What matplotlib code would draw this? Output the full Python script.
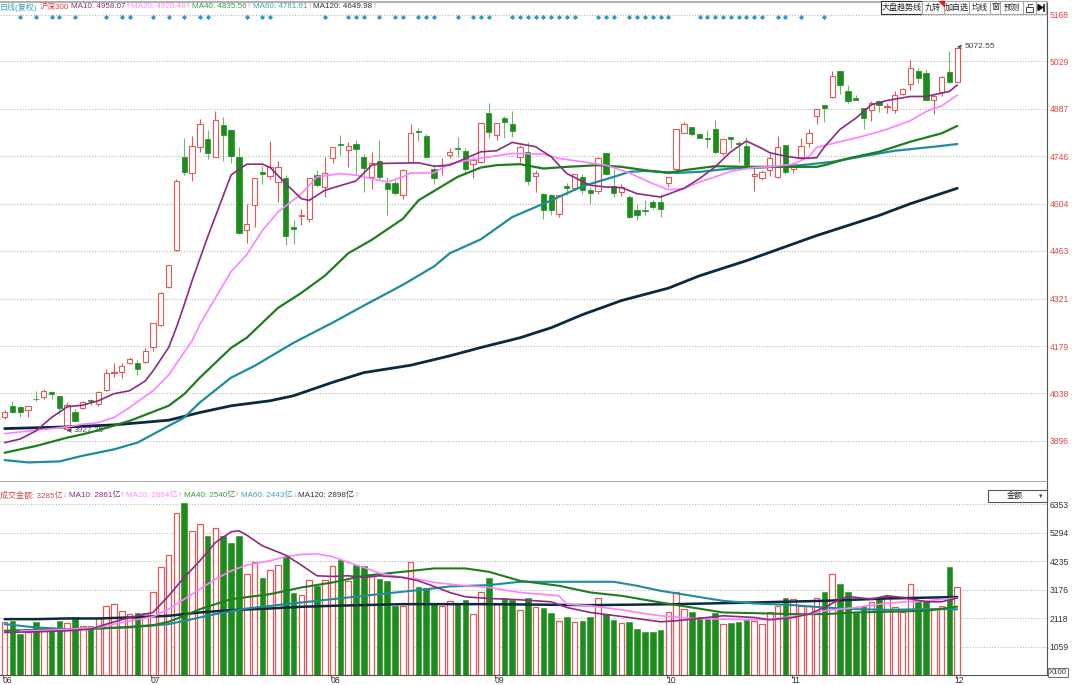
import numpy as np
import matplotlib
matplotlib.use("Agg")
import matplotlib.pyplot as plt
import matplotlib.transforms as mtransforms
from matplotlib.patches import Rectangle, Polygon

plt.rcParams['font.family'] = ['Liberation Sans', 'Noto Sans CJK SC', 'DejaVu Sans']

# ---------------- data (CSI 300 daily) ----------------
opens = [3969, 3999, 3996, 3988, 4022, 4026, 4043, 4031, 3933, 3983,
         3993, 4017, 4005, 4048, 4099, 4101, 4130, 4128, 4132, 4175,
         4242, 4356, 4466, 4742, 4696, 4774, 4798, 4744, 4839, 4824,
         4744, 4526, 4599, 4698, 4686, 4669, 4681, 4534, 4567, 4559,
         4689, 4654, 4739, 4782, 4764, 4781, 4744, 4684, 4731, 4666,
         4666, 4631, 4729, 4820, 4806, 4709, 4717, 4749, 4770, 4762,
         4722, 4729, 4874, 4809, 4859, 4842, 4744, 4759, 4686, 4634,
         4631, 4574, 4656, 4652, 4684, 4644, 4641, 4754, 4656, 4639,
         4624, 4584, 4585, 4609, 4609, 4666, 4709, 4816, 4832, 4812,
         4799, 4826, 4754, 4802, 4785, 4776, 4686, 4682, 4706, 4684,
         4779, 4709, 4744, 4784, 4866, 4899, 4922, 4999, 4941, 4919,
         4889, 4884, 4909, 4893, 4884, 4932, 4961, 5001, 4994, 4912,
         4936, 4996, 4966]
highs = [3988, 4016, 3999, 4001, 4046, 4052, 4044, 4031, 4013, 3991,
         4016, 4020, 4046, 4110, 4128, 4128, 4146, 4137, 4174, 4248,
         4341, 4421, 4679, 4799, 4806, 4857, 4824, 4881, 4862, 4824,
         4774, 4602, 4681, 4716, 4792, 4732, 4691, 4556, 4589, 4681,
         4706, 4744, 4772, 4809, 4787, 4794, 4752, 4759, 4794, 4684,
         4674, 4709, 4841, 4829, 4812, 4719, 4739, 4771, 4804, 4769,
         4744, 4848, 4904, 4846, 4866, 4881, 4779, 4789, 4704, 4636,
         4634, 4629, 4666, 4694, 4692, 4654, 4744, 4754, 4709, 4664,
         4629, 4604, 4614, 4616, 4634, 4684, 4826, 4849, 4832, 4816,
         4824, 4854, 4796, 4804, 4791, 4802, 4714, 4704, 4756, 4806,
         4779, 4729, 4799, 4826, 4887, 4899, 4999, 4999, 4959, 4929,
         4889, 4909, 4912, 4904, 4941, 4949, 5032, 5009, 5006, 4929,
         4984, 5059, 5072.55]
lows = [3961, 3980, 3969, 3968, 4016, 4022, 4021, 3978, 3927.25, 3953,
        3990, 4003, 4000, 4045, 4088, 4083, 4126, 4093, 4130, 4165,
        4239, 4352, 4464, 4689, 4672, 4759, 4736, 4744, 4732, 4726,
        4514, 4486, 4534, 4664, 4679, 4609, 4481, 4484, 4539, 4549,
        4654, 4624, 4724, 4749, 4714, 4694, 4639, 4649, 4674, 4569,
        4629, 4619, 4726, 4792, 4742, 4664, 4689, 4739, 4744, 4694,
        4682, 4726, 4799, 4794, 4799, 4802, 4729, 4659, 4639, 4559,
        4569, 4564, 4629, 4644, 4634, 4604, 4634, 4689, 4624, 4626,
        4562, 4556, 4569, 4589, 4564, 4654, 4706, 4814, 4806, 4799,
        4769, 4752, 4749, 4769, 4729, 4716, 4641, 4674, 4686, 4682,
        4694, 4696, 4739, 4774, 4842, 4849, 4919, 4932, 4906, 4912,
        4827, 4852, 4879, 4874, 4874, 4929, 4944, 4964, 4914, 4872,
        4924, 4964, 4966]
closes = [3981, 3983, 3981, 3999, 4020, 4044, 4037, 3994, 4004, 3955,
          4013, 4015, 4043, 4098, 4101, 4121, 4140, 4111, 4164, 4247,
          4337, 4420, 4671, 4699, 4776, 4842, 4756, 4854, 4809, 4746,
          4517, 4544, 4681, 4694, 4714, 4714, 4507, 4530, 4571, 4681,
          4659, 4696, 4772, 4780, 4777, 4766, 4712, 4724, 4684, 4649,
          4636, 4706, 4816, 4818, 4742, 4682, 4721, 4757, 4767, 4709,
          4734, 4846, 4819, 4844, 4849, 4821, 4772, 4672, 4696, 4586,
          4584, 4629, 4652, 4692, 4644, 4636, 4739, 4694, 4636, 4654,
          4564, 4569, 4583, 4594, 4589, 4684, 4826, 4841, 4811, 4801,
          4797, 4757, 4796, 4796, 4783, 4719, 4692, 4699, 4739, 4774,
          4699, 4719, 4777, 4814, 4887, 4889, 4986, 4957, 4909, 4912,
          4859, 4906, 4899, 4895, 4929, 4946, 5009, 4979, 4914, 4924,
          4981, 4967, 5069]
# turnover, 亿
volumes = [1953, 2015, 1519, 1581, 1953, 1643, 1705, 1990, 1928, 2139,
           1829, 1804, 2101, 2572, 2634, 2362, 2263, 2300, 2300, 3093,
           4022, 4456, 6017, 6388, 5359, 5607, 5148, 5458, 5148, 4900,
           5148, 3748, 4182, 3599, 3909, 4084, 4431, 3043, 2980, 3538,
           3290, 3538, 4059, 4282, 3500, 4084, 4034, 3686, 3562, 3500,
           2546, 2572, 4208, 3253, 3216, 2634, 2572, 2758, 2634, 2795,
           2263, 3093, 3599, 2634, 2857, 2795, 2411, 2857, 2510, 2472,
           2300, 2015, 2139, 1978, 1990, 2163, 2845, 2263, 2052, 1928,
           1953, 1705, 1606, 1606, 1680, 2349, 3093, 2448, 2325, 2139,
           2101, 2287, 1891, 1928, 1978, 2052, 2015, 1891, 2325, 2572,
           2845, 2820, 2572, 2572, 2845, 3093, 3748, 3376, 3068, 2300,
           2572, 2720, 2882, 2944, 2510, 2325, 3376, 2696, 2795, 2448,
           2572, 4022, 3285]

# moving averages as drawn by the terminal: (day index, value)
price_ma10 = [(0, 3891), (2, 3902), (4, 3926), (6, 3966), (8, 3998), (10, 4003), (12, 4016),
              (14, 4037), (16, 4046), (18, 4075), (19, 4105), (21, 4175), (22, 4235), (23, 4303),
              (24, 4374), (26, 4505), (29, 4690), (31, 4722), (33, 4722), (34, 4712), (36, 4664),
              (38, 4619), (39, 4614), (41, 4644), (45, 4672), (47, 4719), (48, 4724), (53, 4726),
              (55, 4716), (57, 4719), (59, 4739), (61, 4759), (63, 4762), (65, 4787), (68, 4774),
              (70, 4744), (72, 4694), (75, 4659), (77, 4654), (79, 4652), (81, 4634), (84, 4624),
              (87, 4650), (89, 4679), (91, 4714), (93, 4759), (95, 4791), (97, 4769), (98, 4756),
              (100, 4746), (102, 4739), (104, 4741), (105, 4774), (107, 4826), (109, 4859),
              (111, 4899), (113, 4912), (116, 4924), (118, 4924), (121, 4939), (122, 4958)]
price_ma20 = [(0, 3918), (4, 3928), (8, 3938), (10, 3946), (12, 3951), (14, 3966), (16, 3996),
              (19, 4046), (21, 4093), (24, 4195), (25, 4244), (29, 4402), (31, 4452), (33, 4524),
              (35, 4579), (38, 4634), (40, 4684), (43, 4694), (45, 4689), (49, 4669), (51, 4684),
              (52, 4696), (55, 4696), (57, 4724), (59, 4732), (61, 4740), (65, 4754), (69, 4752),
              (71, 4739), (74, 4729), (77, 4719), (80, 4696), (83, 4664), (85, 4646), (87, 4649),
              (89, 4669), (91, 4684), (93, 4701), (96, 4712), (98, 4714), (101, 4722), (103, 4744),
              (104, 4772), (107, 4789), (110, 4806), (113, 4826), (116, 4852), (118, 4879),
              (120, 4896), (122, 4928)]
price_ma40 = [(0, 3861), (4, 3881), (8, 3906), (10, 3916), (12, 3928), (16, 3956), (21, 4001),
              (23, 4036), (25, 4085), (29, 4174), (31, 4204), (35, 4293), (38, 4338), (41, 4389),
              (44, 4456), (47, 4496), (51, 4559), (53, 4614), (58, 4684), (61, 4712), (63, 4719),
              (66, 4722), (69, 4709), (72, 4714), (76, 4719), (79, 4714), (82, 4704), (85, 4696),
              (87, 4704), (91, 4716), (95, 4714), (99, 4714), (104, 4714), (105, 4719), (108, 4739),
              (112, 4759), (116, 4789), (120, 4814), (122, 4836)]
price_ma60 = [(0, 3839), (3, 3832), (7, 3835), (10, 3852), (14, 3871), (17, 3891), (21, 3941),
              (23, 3966), (25, 4011), (29, 4085), (32, 4120), (37, 4189), (42, 4249), (46, 4300),
              (51, 4362), (55, 4417), (57, 4456), (61, 4498), (65, 4564), (70, 4614), (74, 4656),
              (78, 4684), (80, 4699), (82, 4702), (86, 4696), (89, 4699), (93, 4709), (97, 4712),
              (102, 4719), (106, 4729), (110, 4746), (114, 4762), (119, 4774), (122, 4782)]
price_ma120 = [(0, 3933), (8, 3938), (14, 3944), (21, 3958), (25, 3981), (29, 4001), (34, 4016),
               (37, 4031), (42, 4071), (46, 4100), (52, 4122), (57, 4150), (61, 4175), (66, 4204),
               (70, 4234), (74, 4273), (79, 4315), (85, 4352), (89, 4389), (95, 4434), (104, 4509),
               (112, 4569), (116, 4604), (122, 4650)]

vol_ma10 = [(0, 1580), (4, 1605), (8, 1642), (11, 1704), (13, 1890), (16, 2138), (19, 2324),
            (21, 2943), (23, 3625), (25, 4244), (27, 4925), (29, 5322), (30, 5359), (31, 5198),
            (33, 4801), (36, 4454), (38, 4083), (40, 3687), (42, 3662), (44, 3687), (46, 3625),
            (48, 3687), (51, 3625), (53, 3501), (55, 3290), (57, 3067), (59, 2906), (62, 2844),
            (66, 2795), (70, 2720), (72, 2509), (75, 2324), (79, 2175), (84, 1977), (86, 2014),
            (88, 2076), (92, 2200), (96, 2138), (98, 2051), (101, 2138), (103, 2262), (105, 2509),
            (107, 2819), (108, 2918), (111, 2819), (113, 2943), (115, 2881), (118, 2720),
            (120, 2720), (122, 2861)]
vol_ma20 = [(2, 1640), (4, 1650), (8, 1700), (12, 1766), (14, 1890), (16, 2014), (19, 2163),
            (21, 2447), (23, 2819), (25, 3191), (27, 3563), (29, 3872), (31, 4083), (34, 4244),
            (36, 4400), (38, 4480), (40, 4500), (42, 4400), (44, 4182), (46, 3996), (48, 3786),
            (51, 3625), (53, 3563), (55, 3439), (57, 3377), (59, 3315), (62, 3253), (66, 3067),
            (71, 2943), (72, 2633), (75, 2571), (79, 2422), (81, 2324), (84, 2200), (88, 2101),
            (92, 2076), (96, 2051), (98, 2076), (101, 2175), (103, 2262), (105, 2386), (109, 2509),
            (113, 2670), (118, 2757), (122, 2864)]
vol_ma40 = [(0, 1642), (4, 1679), (8, 1704), (12, 1729), (16, 1791), (19, 1853), (21, 1977),
            (23, 2200), (25, 2447), (29, 2819), (34, 3005), (38, 3253), (42, 3439), (46, 3687),
            (51, 3836), (55, 3960), (59, 3960), (62, 3836), (66, 3501), (71, 3315), (75, 3067),
            (79, 2943), (84, 2695), (88, 2509), (92, 2324), (96, 2299), (101, 2262), (105, 2262),
            (109, 2324), (113, 2349), (118, 2386), (122, 2540)]
vol_ma60 = [(0, 1890), (4, 1766), (8, 1704), (12, 1729), (16, 1766), (21, 1890), (23, 2014),
            (27, 2262), (31, 2472), (36, 2633), (40, 2757), (44, 2881), (48, 3005), (53, 3154),
            (57, 3290), (62, 3340), (66, 3464), (71, 3464), (75, 3464), (78, 3464), (81, 3315),
            (84, 3129), (88, 2943), (92, 2757), (96, 2658), (101, 2596), (105, 2509), (109, 2447),
            (113, 2422), (118, 2447), (122, 2443)]
vol_ma120 = [(0, 2076), (4, 2076), (8, 2101), (12, 2101), (16, 2138), (21, 2200), (25, 2324),
             (29, 2410), (34, 2472), (38, 2534), (42, 2571), (51, 2633), (62, 2633), (75, 2596),
             (86, 2633), (96, 2695), (105, 2757), (113, 2844), (122, 2898)]

# signal diamonds along the top row (day index)
signal_days = [2, 4, 6, 7, 9, 13, 15, 16, 19, 21, 23, 25, 26, 31, 33, 34, 41, 44, 45, 46,
               48, 50, 51, 53, 54, 55, 58, 60, 61, 62, 65, 66, 67, 68, 69, 70, 71, 72, 73,
               76, 77, 78, 80, 81, 82, 83, 84, 85, 89, 90, 91, 92, 93, 94, 95, 96, 97, 99,
               100, 102, 105]

month_days = [0, 19, 42, 63, 85, 101, 122]
month_labels = ['06', '07', '08', '09', '10', '11', '12']
price_ticks = [3896, 4038, 4179, 4321, 4463, 4604, 4746, 4887, 5029, 5168]
vol_ticks = [1059, 2118, 3176, 4235, 5294, 6353]

# legend rows: (text, colour, trailing arrow)
price_legend = [("日线(复权)", "#3A9FC0", ""), ("沪深300", "#E03C3C", ""),
                ("MA10: 4958.07", "#8E2A82", "↑"), ("MA20: 4928.48", "#FF88FF", "↑"),
                ("MA40: 4835.56", "#3A9A3A", "↑"), ("MA60: 4781.91", "#3AA0B0", "↑"),
                ("MA120: 4649.98", "#303040", "↑")]
vol_legend = [("成交金额: 3285亿", "#D04848", "↓"), ("MA10: 2861亿", "#8E2A82", "↑"),
              ("MA20: 2864亿", "#FF88FF", "↑"), ("MA40: 2540亿", "#3A9A3A", "↑"),
              ("MA60: 2443亿", "#3AA0B0", "↓"), ("MA120: 2898亿", "#303040", "↑")]

# ---------------- style ----------------
RED = "#E05A5A"
GREEN = "#1C8C1C"
GREEN_WICK = "#6DB86D"
C_MA10 = "#8E2A82"
C_MA20 = "#FF80FF"
C_MA40 = "#1E7E1E"
C_MA60 = "#1E8C9C"
C_MA120 = "#0B2A40"
GRID = "#B8B8B8"
UP_ARROW = "#F06060"
DOWN_ARROW = "#30B8E0"
LEG_SIZE = 5.8

W, H = 1080, 685


def rect(x0, y0, x1, y1):
    return [x0 / W, 1 - y1 / H, (x1 - x0) / W, (y1 - y0) / H]


def fbox(x0, y0, x1, y1, ec="#A8A8A8", lw=0.8):
    fig.patches.append(Rectangle((x0 / W, 1 - y1 / H), (x1 - x0) / W, (y1 - y0) / H,
                                 transform=fig.transFigure, facecolor="white",
                                 edgecolor=ec, lw=lw, zorder=5))


def legend_row(items, y, gap=1.8):
    """Lay text pieces left to right, each arrow glued to its label."""
    renderer = fig.canvas.get_renderer()
    x = 0.0
    for s, col, arr in items:
        t = fig.text(x / W, 1 - y / H, s, color=col, fontsize=LEG_SIZE, ha="left", va="center")
        x = t.get_window_extent(renderer).x1 + 0.3
        if arr:
            acol = UP_ARROW if arr == "↑" else DOWN_ARROW
            a = fig.text(x / W, 1 - y / H, arr, color=acol, fontsize=LEG_SIZE, ha="left", va="center")
            x = a.get_window_extent(renderer).x1
        x += gap


def unzip(pts):
    return [p[0] for p in pts], [p[1] for p in pts]


fig = plt.figure(figsize=(W / 100, H / 100), dpi=100)
fig.patch.set_facecolor("white")

ax_p = fig.add_axes(rect(0, 2, 1047, 482))
ax_v = fig.add_axes(rect(0, 482, 1047, 675))

o = np.array(opens, float)
h = np.array(highs, float)
l = np.array(lows, float)
c = np.array(closes, float)
v = np.array(volumes, float)
days = np.arange(len(c))
up = c >= o

# ---------------- price panel ----------------
for t in price_ticks:
    ax_p.axhline(t, color=GRID, lw=0.8, ls=(0, (1, 1.5)), zorder=0)

body_lo = np.minimum(o, c)
body_h = np.maximum(np.abs(c - o), 1.2)
ax_p.vlines(days[up], l[up], h[up], color=RED, lw=0.8, zorder=2)
ax_p.vlines(days[~up], l[~up], h[~up], color=GREEN_WICK, lw=0.8, zorder=2)
ax_p.bar(days[up], body_h[up], bottom=body_lo[up], width=0.68,
         facecolor="white", edgecolor=RED, lw=0.8, zorder=3)
ax_p.bar(days[~up], body_h[~up], bottom=body_lo[~up], width=0.68,
         facecolor=GREEN, edgecolor=GREEN, lw=0.5, zorder=3)

for pts, col, lw in [(price_ma120, C_MA120, 2.0), (price_ma60, C_MA60, 1.6),
                     (price_ma40, C_MA40, 1.6), (price_ma20, C_MA20, 1.2),
                     (price_ma10, C_MA10, 1.2)]:
    xs, ys = unzip(pts)
    ax_p.plot(xs, ys, color=col, lw=lw, zorder=4, solid_capstyle="round")

# high / low markers
hi_i, lo_i = int(np.argmax(h)), int(np.argmin(l))
ax_p.annotate(f"{h[hi_i]:.2f}", xy=(hi_i, h[hi_i]), xytext=(5, 0), textcoords="offset points",
              fontsize=6.0, color="#444444", va="center",
              arrowprops=dict(arrowstyle="->", lw=0.6, color="#333333", shrinkA=0, shrinkB=0))
ax_p.annotate(f"{l[lo_i]:.2f}", xy=(lo_i, l[lo_i]), xytext=(5, 0), textcoords="offset points",
              fontsize=6.0, color="#555555", va="center",
              arrowprops=dict(arrowstyle="->", lw=0.6, color="#333333", shrinkA=0, shrinkB=0))

trans = mtransforms.blended_transform_factory(ax_p.transData, ax_p.transAxes)
ax_p.scatter(signal_days, [0.9694] * len(signal_days), marker="D", s=7,
             color="#2F97CC", transform=trans, zorder=5, linewidths=0)

ax_p.set_xlim(-0.6, 133.5)
ax_p.set_ylim(3773.6, 5205.9)
ax_p.yaxis.tick_right()
ax_p.set_yticks(price_ticks)
ax_p.set_yticklabels([str(t) for t in price_ticks])
ax_p.tick_params(axis="y", length=0, pad=2, labelsize=6.2, labelcolor="#E04848")
ax_p.set_xticks([])
ax_p.spines["left"].set_visible(False)
ax_p.spines["right"].set_color("#555555")
ax_p.spines["top"].set_color("#B0B0B0")
ax_p.spines["top"].set_linewidth(1.5)
ax_p.spines["bottom"].set_color("#9A9A9A")
ax_p.spines["bottom"].set_linewidth(1.2)

# ---------------- volume panel ----------------
for t in vol_ticks:
    ax_v.axhline(t, color=GRID, lw=0.8, ls=(0, (1, 1.5)), zorder=0)

ax_v.bar(days[up], v[up], width=0.72, facecolor="white", edgecolor=RED, lw=0.9, zorder=2)
ax_v.bar(days[~up], v[~up], width=0.72, facecolor=GREEN, edgecolor=GREEN, lw=0.4, zorder=2)

for pts, col, lw in [(vol_ma120, C_MA120, 1.8), (vol_ma60, C_MA60, 1.5),
                     (vol_ma40, C_MA40, 1.5), (vol_ma20, C_MA20, 1.2),
                     (vol_ma10, C_MA10, 1.2)]:
    xs, ys = unzip(pts)
    ax_v.plot(xs, ys, color=col, lw=lw, zorder=4, solid_capstyle="round")

ax_v.set_xlim(-0.6, 133.5)
ax_v.set_ylim(0, 7172)
ax_v.yaxis.tick_right()
ax_v.set_yticks(vol_ticks)
ax_v.set_yticklabels([str(t) for t in vol_ticks])
ax_v.tick_params(axis="y", length=0, pad=2, labelsize=6.2, labelcolor="#333333")
ax_v.set_xticks([d - 0.2 for d in month_days])
ax_v.tick_params(axis="x", length=4, direction="inout", color="#555555", labelbottom=False)
vtrans = mtransforms.blended_transform_factory(ax_v.transData, ax_v.transAxes)
for d, lab in zip(month_days, month_labels):
    ax_v.text(d - 0.3, -0.028, lab, transform=vtrans, fontsize=6.2,
              color="#333333", ha="left", va="center")
ax_v.spines["left"].set_visible(False)
ax_v.spines["top"].set_visible(False)
ax_v.spines["right"].set_color("#555555")
ax_v.spines["bottom"].set_color("#555555")

# ---------------- header texts ----------------
legend_row(price_legend, 7)
legend_row(vol_legend, 495.5)

# toolbar buttons top right
buttons = [(881, 922, "大盘趋势线"), (922, 944, "九转"), (944, 969, "加自选"),
           (969, 990, "均线"), (990, 1000, "窗"), (1000, 1023, "预测")]
for i, (x0, x1, s) in enumerate(buttons):
    fbox(x0, 1, x1, 14, ec="#333333" if i == 0 else "#A8A8A8")
    fig.text((x0 + x1) / 2 / W, 1 - 7.5 / H, s, fontsize=5.8, color="#222222",
             ha="center", va="center", zorder=6)
fig.patches.append(Polygon([(939 / W, 1 - 1 / H), (944 / W, 1 - 1 / H), (944 / W, 1 - 6 / H)],
                           closed=True, transform=fig.transFigure, color="#E02020", zorder=7))
fbox(1023, 1, 1036, 14)
fig.patches.append(Rectangle((1026 / W, 1 - 12 / H), 7 / W, 5 / H, transform=fig.transFigure,
                             facecolor="white", edgecolor="#444444", lw=0.7, zorder=6))
fig.lines.append(plt.Line2D([1027.5 / W, 1027.5 / W, 1031.5 / W], [1 - 7 / H, 1 - 3.5 / H, 1 - 3.5 / H],
                            transform=fig.transFigure, color="#444444", lw=0.7, zorder=6))
fbox(1036, 1, 1046, 14)
fig.patches.append(Polygon([(1038 / W, 1 - 4.5 / H), (1038 / W, 1 - 10.5 / H), (1042.5 / W, 1 - 7.5 / H)],
                           closed=True, transform=fig.transFigure, color="#111111", zorder=7))
fig.lines.append(plt.Line2D([1043.5 / W, 1043.5 / W], [1 - 4.5 / H, 1 - 10.5 / H],
                            transform=fig.transFigure, color="#111111", lw=1.2, zorder=7))

# volume selector box
fbox(988, 490, 1047, 502, ec="#555555")
fig.text(1015 / W, 1 - 496 / H, "金额", fontsize=5.8, color="#222222", ha="center", va="center", zorder=6)
fig.text(1041 / W, 1 - 496 / H, "▼", fontsize=4.0, color="#333333", ha="center", va="center", zorder=6)

# unit box
fbox(1048, 668, 1068, 677, ec="#777777")
fig.text(1058 / W, 1 - 672.5 / H, "X100", fontsize=5.6, color="#333333", ha="center", va="center", zorder=6)

fig.savefig("out.png", dpi=100, facecolor="white")
